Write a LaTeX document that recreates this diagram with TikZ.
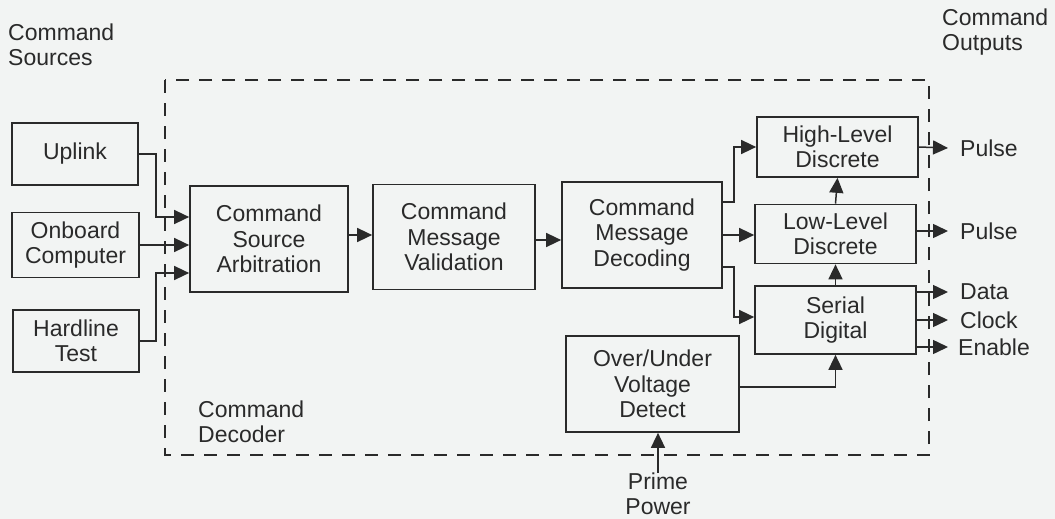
\documentclass[tikz,border=0pt]{standalone}
\usepackage{fontspec}
\setmainfont{Liberation Sans}
\usetikzlibrary{arrows.meta,calc}
\definecolor{ink}{HTML}{2A2A2A}
\definecolor{paper}{HTML}{F2F4F3}
\begin{document}
\begin{tikzpicture}[x=1pt,y=-1pt,
  txt/.style={font=\fontsize{23}{25.5}\selectfont, text=ink, align=center},
  blk/.style={txt, draw=ink, line width=1.7pt, inner sep=0pt},
  lbl/.style={txt, inner sep=0pt},
  arr/.style={draw=ink, line width=1.5pt, -{Triangle[length=15pt,width=14pt]}},
  frame/.style={draw=ink, line width=1.8pt, dash pattern=on 13pt off 10pt}]
\fill[paper] (0,0) rectangle (1055,519);
\useasboundingbox (0,0) rectangle (1055,519);
% dashed decoder frame
\draw[frame] (165,80) rectangle (929,455);
% blocks
\node[blk, minimum width=126pt, minimum height=62pt] (uplink) at (75,154) {Uplink};
\node[blk, minimum width=127pt, minimum height=65pt] (onboard) at (75.5,245) {Onboard\\Computer};
\node[blk, minimum width=126pt, minimum height=62pt] (hardline) at (76,341) {Hardline\\Test};
\node[blk, minimum width=158pt, minimum height=106pt] (csa) at (269,239) {Command\\Source\\Arbitration};
\node[blk, minimum width=162pt, minimum height=105pt] (cmv) at (454,237) {Command\\Message\\Validation};
\node[blk, minimum width=160pt, minimum height=106pt] (cmd) at (642,235) {Command\\Message\\Decoding};
\node[blk, minimum width=161pt, minimum height=60pt] (hld) at (837.5,147) {High-Level\\Discrete};
\node[blk, minimum width=161pt, minimum height=59pt] (lld) at (835.5,234) {Low-Level\\Discrete};
\node[blk, minimum width=161pt, minimum height=68pt] (sd) at (835.5,320) {Serial\\Digital};
\node[blk, minimum width=173pt, minimum height=96pt] (ouvd) at (652.5,384) {Over/Under\\Voltage\\Detect};
% labels
\node[lbl, align=left, anchor=west] (srcs) at (8,45) {Command\\Sources};
\node[lbl, align=left, anchor=west] (outs) at (942,32) {Command\\Outputs};
\node[lbl, align=left, anchor=west] (dec) at (198,422) {Command\\Decoder};
\node[lbl] (pp) at (658,494) {Prime\\Power};
\node[lbl, anchor=west] (p1) at (960,148) {Pulse};
\node[lbl, anchor=west] (p2) at (960,231) {Pulse};
\node[lbl, anchor=west] (dat) at (960,292) {Data};
\node[lbl, anchor=west] (clk) at (960,320) {Clock};
\node[lbl, anchor=west] (ena) at (958,347) {Enable};
% connectors
\draw[arr] (uplink.east) -- ++(17,0) |- ($(csa.west)+(0,-22)$);
\draw[arr] (onboard.east) -- (onboard.east -| csa.west);
\draw[arr] (hardline.east) -- ++(16,0) |- ($(csa.west)+(0,34)$);
\draw[arr] ($(csa.east)+(0,-4)$) -- ($(cmv.west)+(0,-2)$);
\draw[arr] ($(cmv.east)+(0,3)$) -- ($(cmd.west)+(0,5)$);
\draw[arr] ($(cmd.east)+(0,-33)$) -- ++(11,0) |- (hld.west);
\draw[arr] (cmd.east) -- (cmd.east -| lld.west);
\draw[arr] ($(cmd.east)+(0,32)$) -- ++(11,0) |- ($(sd.west)+(0,-3)$);
\draw[arr] (lld.north) -- (hld.south);
\draw[arr] (sd.north) -- (lld.south);
\draw[arr] ($(ouvd.east)+(0,3)$) -| (sd.south);
\draw[arr] (pp.north) -- (pp.north |- ouvd.south);
\draw[arr] (hld.east) -- ([xshift=-12pt]p1.west);
\draw[arr] (lld.east |- p2.west) -- ([xshift=-12pt]p2.west);
\draw[arr] (sd.east |- dat.west) -- ([xshift=-12pt]dat.west);
\draw[arr] (sd.east |- clk.west) -- ([xshift=-12pt]clk.west);
\draw[arr] (sd.east |- ena.west) -- ([xshift=-10pt]ena.west);
\end{tikzpicture}
\end{document}
